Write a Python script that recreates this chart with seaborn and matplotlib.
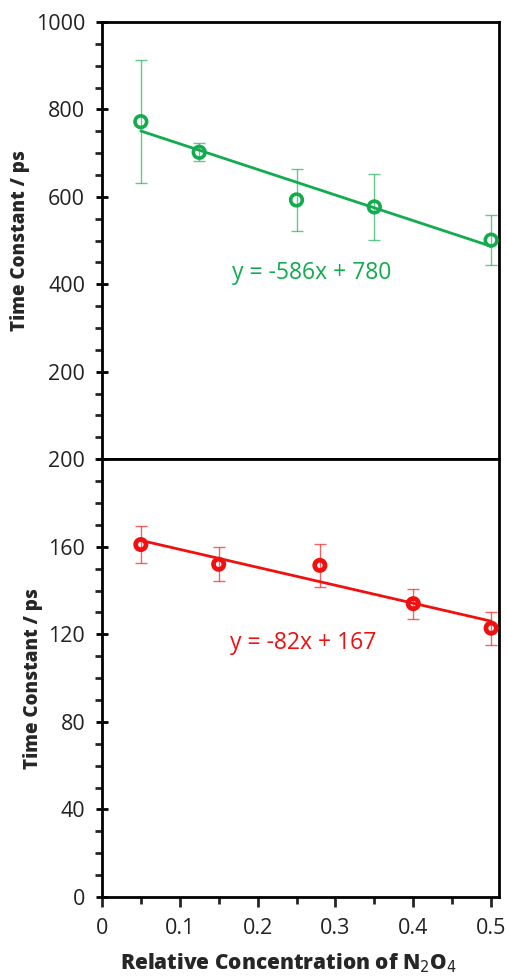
import numpy as np
import pandas as pd
import seaborn as sns
import matplotlib.pyplot as plt
from matplotlib.ticker import MultipleLocator

# top panel (green)
x_top = [0.05, 0.125, 0.25, 0.35, 0.5]
y_top = [772, 702, 593, 577, 501]
err_top = [140, 21, 70, 75, 57]
fit_top = (-586, 780)

# bottom panel (red)
x_bot = [0.05, 0.15, 0.28, 0.40, 0.50]
y_bot = [161, 152, 151.5, 134, 122.8]
err_bot = [8.5, 7.7, 9.8, 6.8, 7.6]
fit_bot = (-82, 167)

green = "#12AB4E"
red = "#F01010"

sns.set_style("white")
plt.rcParams['font.family'] = ['Open Sans', 'DejaVu Sans']

fig = plt.figure(figsize=(5.07, 9.77), dpi=100)
ax1 = fig.add_axes([0.201, 0.530, 0.783, 0.4475])
ax2 = fig.add_axes([0.201, 0.0819, 0.783, 0.4481])


def panel(ax, xs, ys, errs, fit, color, size, mew, ylim, major, minor, label_pos, eq):
    df = pd.DataFrame({"x": xs, "y": ys})
    ax.errorbar(xs, ys, yerr=errs, fmt="none", ecolor=color, elinewidth=1.0,
                capsize=4, capthick=1.0, alpha=0.65, zorder=2)
    xl = np.array([min(xs), max(xs)])
    line = pd.DataFrame({"x": xl, "y": fit[0] * xl + fit[1]})
    sns.lineplot(data=line, x="x", y="y", ax=ax, color=color, lw=2, zorder=3)
    sns.scatterplot(data=df, x="x", y="y", ax=ax, marker="o", s=size,
                    facecolor="none", edgecolor=color, linewidth=mew, zorder=4)
    ax.text(label_pos[0], label_pos[1], eq, color=color, fontsize=16.5,
            ha="center", va="center")
    ax.set_xlim(0, 0.51)
    ax.set_ylim(*ylim)
    ax.yaxis.set_major_locator(MultipleLocator(major))
    ax.yaxis.set_minor_locator(MultipleLocator(minor))
    ax.xaxis.set_major_locator(MultipleLocator(0.1))
    ax.xaxis.set_minor_locator(MultipleLocator(0.05))
    for s in ax.spines.values():
        s.set_color("black")
        s.set_linewidth(2)
    ax.tick_params(axis="y", which="major", direction="inout", length=8, width=2,
                   labelsize=15.5, left=True, pad=8, colors="black", labelcolor="#222222")
    ax.tick_params(axis="y", which="minor", direction="out", length=5, width=2, left=True)
    ax.set_ylabel("Time Constant / ps", fontsize=13.5, fontweight="heavy",
                  labelpad=4)
    ax.set_xlabel("")


panel(ax1, x_top, y_top, err_top, fit_top, green, 70, 2.6, (0, 1000), 200, 50,
      (0.27, 426), "y = -586x + 780")
panel(ax2, x_bot, y_bot, err_bot, fit_bot, red, 55, 3.4, (0, 200), 40, 10,
      (0.258, 116), "y = -82x + 167")

ax1.set_yticks([200, 400, 600, 800, 1000])
ax1.tick_params(axis="x", which="both", bottom=False, labelbottom=False)
ax2.tick_params(axis="x", which="major", direction="out", length=7, width=2,
                labelsize=15.5, bottom=True, pad=8, labelcolor="#222222")
ax2.tick_params(axis="x", which="minor", direction="out", length=5, width=2, bottom=True)
ax2.set_xticks([0, 0.1, 0.2, 0.3, 0.4, 0.5])
ax2.set_xticklabels(["0", "0.1", "0.2", "0.3", "0.4", "0.5"])
ax2.set_xlabel("Relative Concentration of N$_2$O$_4$", fontsize=15,
               fontweight="heavy")
ax2.xaxis.set_label_coords(0.47, -0.125)

fig.savefig("out.png", dpi=100)
